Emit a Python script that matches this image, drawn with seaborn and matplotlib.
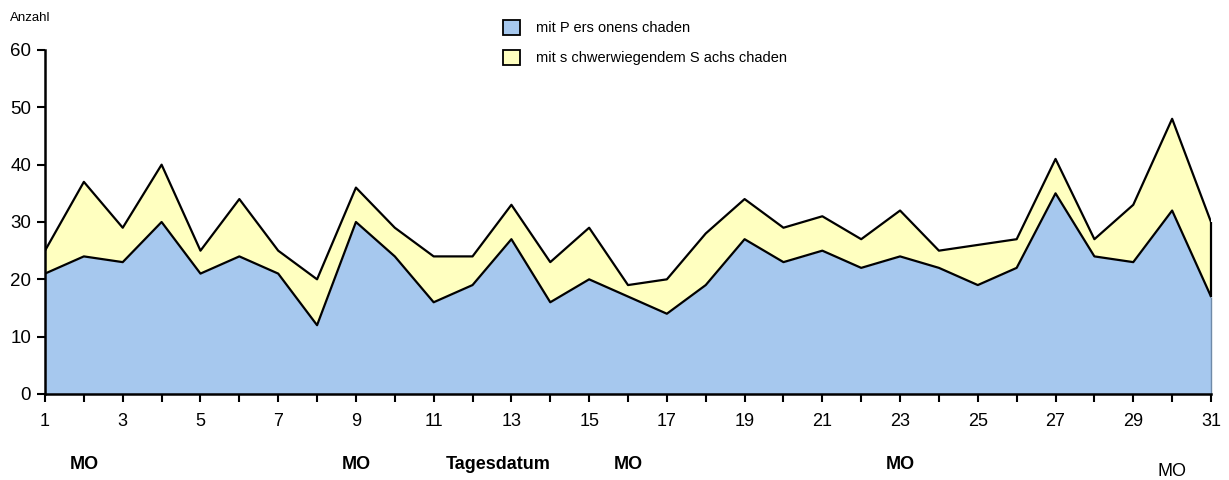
import numpy as np
import pandas as pd
import matplotlib
matplotlib.use("Agg")
import matplotlib.pyplot as plt
import seaborn as sns
from matplotlib.patches import Patch

days = list(range(1, 32))
personen = [21, 24, 23, 30, 21, 24, 21, 12, 30, 24, 16, 19, 27, 16, 20, 17,
            14, 19, 27, 23, 25, 22, 24, 22, 19, 22, 35, 24, 23, 32, 17]
sach = [4, 13, 6, 10, 4, 10, 4, 8, 6, 5, 8, 5, 6, 7, 9, 2,
        6, 9, 7, 6, 6, 5, 8, 3, 7, 5, 6, 3, 10, 16, 13]
series_labels = ["mit P ers onens chaden", "mit s chwerwiegendem S achs chaden"]
monday_days = [2, 9, 16, 23, 30]
y_ticks = [0, 10, 20, 30, 40, 50, 60]

sns.set_style("white")
plt.rcParams['font.family'] = ['Liberation Sans', 'DejaVu Sans']
plt.rcParams['text.color'] = 'black'
plt.rcParams['xtick.color'] = 'black'
plt.rcParams['ytick.color'] = 'black'
plt.rcParams['axes.labelcolor'] = 'black'

blue = "#A6C8EE"
yellow = "#FFFFC0"

df = pd.DataFrame({"Tag": days, "Personen": personen,
                   "Gesamt": np.array(personen) + np.array(sach)})

fig = plt.figure(figsize=(12.29, 4.8), dpi=100)
ax = fig.add_axes([45/1229, 86/480, 1166/1229, 344/480])

ax.fill_between(df["Tag"], 0, df["Personen"], color=blue, linewidth=0, zorder=1)
ax.fill_between(df["Tag"], df["Personen"], df["Gesamt"], color=yellow, linewidth=0, zorder=1)
sns.lineplot(data=df, x="Tag", y="Personen", color="black", linewidth=1.6, ax=ax, zorder=3)
sns.lineplot(data=df, x="Tag", y="Gesamt", color="black", linewidth=1.6, ax=ax, zorder=3)
ax.vlines(df["Tag"].iloc[-1], df["Personen"].iloc[-1], df["Gesamt"].iloc[-1],
          color="black", linewidth=1.6, zorder=3, clip_on=False)
ax.vlines(df["Tag"].iloc[-1], 0, df["Personen"].iloc[-1],
          color="#6f8aa8", linewidth=1.0, zorder=3, clip_on=False)

ax.set_xlim(1, 31)
ax.set_ylim(0, 60)
ax.set_xticks(days)
ax.set_xticklabels([str(d) if d % 2 == 1 else "" for d in days], fontsize=13)
ax.set_yticks(y_ticks)
ax.set_yticklabels([str(v) for v in y_ticks], fontsize=13.5)
ax.tick_params(axis="both", direction="out", length=6, width=1.5, color="black",
               labelcolor="black", bottom=True, left=True, pad=8)
ax.tick_params(axis="y", pad=4)
for s in ["top", "right"]:
    ax.spines[s].set_visible(False)
for s in ["left", "bottom"]:
    ax.spines[s].set_color("black")
    ax.spines[s].set_linewidth(1.8)
    ax.spines[s].set_zorder(4)
ax.set_xlabel("")
ax.set_ylabel("")

fig.text(10/1229, 1 - 18/480, "Anzahl", fontsize=9.5, ha="left", va="center")

for d in monday_days[:-1]:
    ax.text(d, -0.205, "MO", transform=ax.get_xaxis_transform(), ha="center",
            va="center", fontsize=13, fontweight="bold")
ax.text(monday_days[-1], -0.225, "MO", transform=ax.get_xaxis_transform(), ha="center",
        va="center", fontsize=13)
ax.text(12.65, -0.205, "Tagesdatum", transform=ax.get_xaxis_transform(), ha="center",
        va="center", fontsize=13, fontweight="bold")

handles = [Patch(facecolor=blue, edgecolor="black", linewidth=1.3),
           Patch(facecolor=yellow, edgecolor="black", linewidth=1.3)]
fig.legend(handles, series_labels, loc="upper left", bbox_to_anchor=(497/1229, 1 - 14/480),
           frameon=False, fontsize=10.5, handlelength=1.2, handleheight=1.2,
           handletextpad=1.1, labelspacing=1.0, borderaxespad=0)

fig.savefig("out.png", dpi=100)
